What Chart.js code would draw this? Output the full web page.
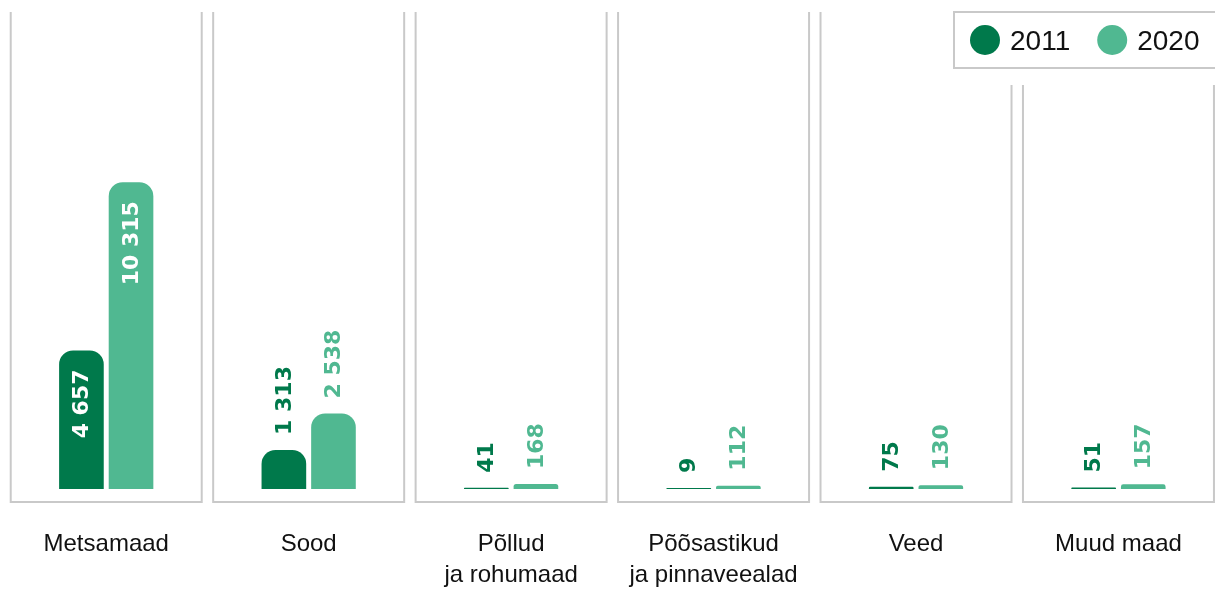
<!DOCTYPE html>
<html>
<head>
<meta charset="utf-8">
<script src="https://cdn.jsdelivr.net/npm/chart.js@4"></script>
<style>
html, body { margin: 0; padding: 0; background: #fff; overflow: hidden; }
</style>
</head>
<body>
<canvas id="landChart" width="1222" height="592"></canvas>
<script>
var categories = ['Metsamaad', 'Sood', ['Põllud', 'ja rohumaad'], ['Põõsastikud', 'ja pinnaveealad'], 'Veed', 'Muud maad'];
var years = ['2011', '2020'];
var values2011 = [4657, 1313, 41, 9, 75, 51];
var values2020 = [10315, 2538, 168, 112, 130, 157];

var darkGreen = 'rgb(0, 121, 75)';
var lightGreen = 'rgb(80, 184, 145)';
var frameGrey = '#c9c9c9';
var legendLeft = 954;

function formatValue(v) {
    return String(v).replace(/\B(?=(\d{3})+(?!\d))/g, ' ');
}

// grey U-shaped frame round every category
var panelFrames = {
    id: 'panelFrames',
    beforeDatasetsDraw: function (chart) {
        var ctx = chart.ctx;
        var xs = chart.scales.x;
        var half = 95.5;
        var bottom = 502;
        ctx.save();
        ctx.strokeStyle = frameGrey;
        ctx.lineWidth = 2;
        for (var i = 0; i < categories.length; i++) {
            var c = xs.getPixelForValue(i);
            var left = c - half;
            var right = c + half;
            var topL = left > legendLeft - 2 ? 85 : 12;
            var topR = right > legendLeft - 2 ? 85 : 12;
            ctx.beginPath();
            ctx.moveTo(left, topL);
            ctx.lineTo(left, bottom);
            ctx.lineTo(right, bottom);
            ctx.lineTo(right, topR);
            ctx.stroke();
        }
        ctx.restore();
    }
};

// rotated value labels, inside tall bars, above short ones
var valueLabels = {
    id: 'valueLabels',
    afterDatasetsDraw: function (chart) {
        var ctx = chart.ctx;
        chart.data.datasets.forEach(function (ds, di) {
            var meta = chart.getDatasetMeta(di);
            meta.data.forEach(function (bar, i) {
                var text = formatValue(ds.data[i]);
                ctx.save();
                ctx.font = 'bold 22px "DejaVu Sans"';
                var w = ctx.measureText(text).width;
                var h = bar.base - bar.y;
                ctx.translate(bar.x, bar.y);
                ctx.rotate(-Math.PI / 2);
                ctx.textBaseline = 'middle';
                if (h > w + 40) {
                    ctx.fillStyle = '#ffffff';
                    ctx.textAlign = 'right';
                    ctx.fillText(text, -19, 1);
                } else {
                    ctx.fillStyle = ds.backgroundColor;
                    ctx.textAlign = 'left';
                    ctx.fillText(text, 15, 1);
                }
                ctx.restore();
            });
        });
    }
};

// boxed legend in the top right corner
var legendBox = {
    id: 'legendBox',
    afterDraw: function (chart) {
        var ctx = chart.ctx;
        ctx.save();
        ctx.strokeStyle = frameGrey;
        ctx.lineWidth = 2;
        ctx.strokeRect(legendLeft, 12, chart.width - legendLeft + 10, 56);
        ctx.font = '28px "Liberation Sans", Arial, sans-serif';
        ctx.textBaseline = 'alphabetic';
        ctx.textAlign = 'left';
        var x = legendLeft + 16;
        chart.data.datasets.forEach(function (ds) {
            ctx.fillStyle = ds.backgroundColor;
            ctx.beginPath();
            ctx.arc(x + 15, 40, 15, 0, Math.PI * 2);
            ctx.fill();
            ctx.fillStyle = '#111111';
            ctx.fillText(ds.label, x + 40, 50);
            x += 40 + ctx.measureText(ds.label).width + 27;
        });
        ctx.restore();
    }
};

var ctx = document.getElementById('landChart').getContext('2d');
var chart = new Chart(ctx, {
    type: 'bar',
    data: {
        labels: categories,
        datasets: [{
            label: years[0],
            data: values2011,
            backgroundColor: darkGreen
        }, {
            label: years[1],
            data: values2020,
            backgroundColor: lightGreen
        }]
    },
    options: {
        responsive: false,
        animation: false,
        layout: { padding: { left: 5, right: 2, top: 13, bottom: 3 } },
        datasets: {
            bar: {
                categoryPercentage: 0.49,
                barPercentage: 0.9,
                borderRadius: 14,
                borderSkipped: 'start',
                minBarLength: 1
            }
        },
        plugins: {
            legend: { display: false },
            tooltip: { enabled: false }
        },
        scales: {
            x: {
                grid: { display: false, drawTicks: false },
                border: { display: false },
                afterFit: function (scale) { scale.height = 100; },
                ticks: {
                    color: '#111111',
                    padding: 40,
                    maxRotation: 0,
                    autoSkip: false,
                    font: { family: '"Liberation Sans", Arial, sans-serif', size: 24, lineHeight: 1.3 }
                }
            },
            y: { display: false, min: 0, max: 16000 }
        }
    },
    plugins: [panelFrames, valueLabels, legendBox]
});
</script>
</body>
</html>
